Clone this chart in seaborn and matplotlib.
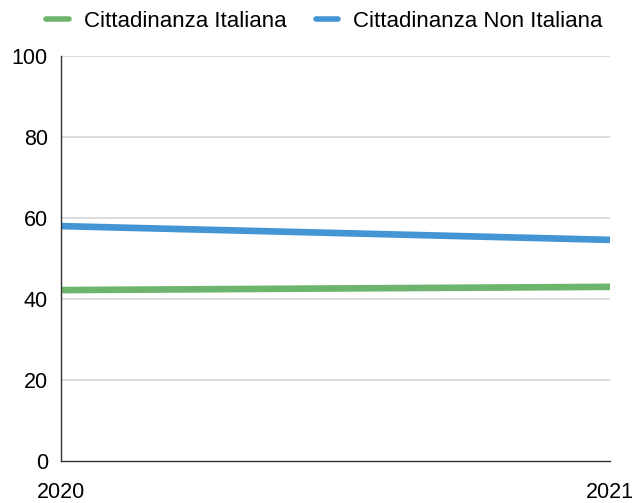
import matplotlib
matplotlib.use("Agg")
import matplotlib.pyplot as plt
import seaborn as sns
import pandas as pd
from matplotlib.lines import Line2D

years = [2020, 2021]
italiana = [42.2, 43.0]
non_italiana = [58.0, 54.6]
series_names = ["Cittadinanza Italiana", "Cittadinanza Non Italiana"]
colors = ["#6db56d", "#4495d4"]
yticks = [0, 20, 40, 60, 80, 100]

df = pd.DataFrame({
    "year": years * 2,
    "value": italiana + non_italiana,
    "series": [series_names[0]] * 2 + [series_names[1]] * 2,
})

sns.set_style("white")
plt.rcParams["font.family"] = ["Liberation Sans", "DejaVu Sans"]

fig = plt.figure(figsize=(6.34, 5.03), dpi=100)
ax = fig.add_axes([61/634, 42/503, 549/634, 405/503])
sns.lineplot(data=df, x="year", y="value", hue="series", palette=colors,
             linewidth=4.8, ax=ax, legend=False)

ax.set_xlim(2020, 2021)
ax.set_ylim(0, 100)
ax.set_yticks(yticks)
ax.set_xticks(years)
ax.set_xticklabels([str(y) for y in years])
ax.set_xlabel("")
ax.set_ylabel("")
for y in yticks[1:]:
    ax.axhline(y, color="#d9d9d9", lw=1.3, zorder=0)
for s in ["top", "right"]:
    ax.spines[s].set_visible(False)
ax.spines["left"].set_color("#333333")
ax.spines["bottom"].set_color("#333333")
ax.spines["left"].set_linewidth(1.0)
ax.spines["bottom"].set_linewidth(1.0)
ax.tick_params(axis="both", length=0, labelsize=15.5, colors="black")
ax.tick_params(axis="y", pad=9.5)
ax.tick_params(axis="x", pad=15)

handles = [Line2D([0], [0], color=c, lw=4) for c in colors]
leg = fig.legend(handles, series_names, loc="center", bbox_to_anchor=(0.512, 0.958),
                 ncol=2, frameon=False, fontsize=16, handlelength=1.0,
                 columnspacing=1.3, handletextpad=0.7)
for t in leg.get_texts():
    t.set_color("black")

fig.savefig("out.png", dpi=100)
